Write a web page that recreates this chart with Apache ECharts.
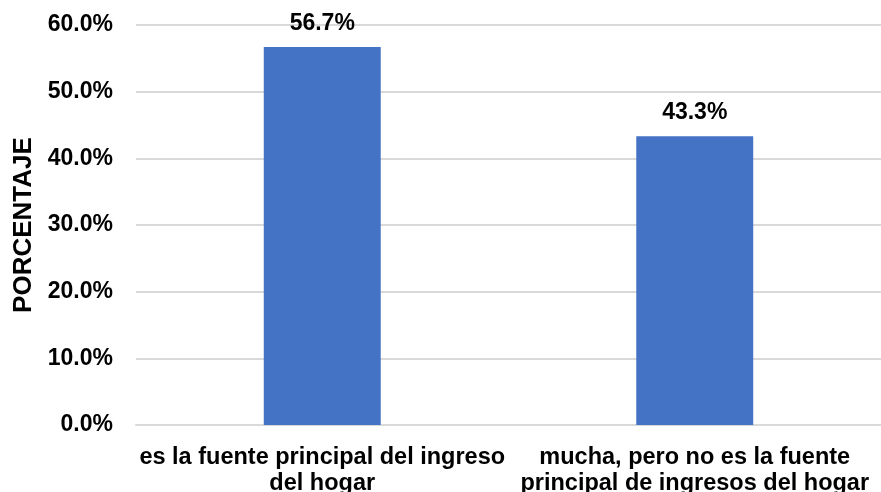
<!DOCTYPE html>
<html>
<head>
<meta charset="utf-8">
<script src="https://cdn.jsdelivr.net/npm/echarts@6/dist/echarts.min.js"></script>
<style>
html,body{margin:0;padding:0;background:#fff;}
#chart{width:881px;height:492px;}
</style>
</head>
<body>
<div id="chart"></div>
<script>
const categories = ["es la fuente principal del ingreso\ndel hogar", "mucha, pero no es la fuente\nprincipal de ingresos del hogar"];
const values = [56.7, 43.3];
const yTicks = [0, 10, 20, 30, 40, 50, 60];

const FONT = '"Liberation Sans", Arial, Helvetica, sans-serif';
const chart = echarts.init(document.getElementById('chart'));
chart.setOption({
  animation: false,
  grid: {left: 136, right: 0, top: 25, bottom: 67, containLabel: false, outerBoundsMode: 'none'},
  xAxis: {
    type: 'category',
    data: categories,
    axisLine: {show: true, lineStyle: {color: '#d9d9d9', width: 2}},
    axisTick: {show: false},
    axisLabel: {
      interval: 0, color: '#000', fontWeight: 'bold', fontSize: 23.5,
      fontFamily: FONT, lineHeight: 26, margin: 20, hideOverlap: false
    }
  },
  yAxis: {
    type: 'value',
    min: yTicks[0], max: yTicks[yTicks.length - 1], interval: 10,
    name: 'PORCENTAJE',
    nameLocation: 'middle',
    nameGap: 99,
    nameRotate: 90,
    nameTextStyle: {color: '#000', fontWeight: 'bold', fontSize: 26, fontFamily: FONT},
    axisLine: {show: false},
    axisTick: {show: false},
    splitLine: {lineStyle: {color: '#d9d9d9', width: 2}},
    axisLabel: {
      color: '#000', fontWeight: 'bold', fontSize: 23, margin: 23,
      fontFamily: FONT,
      formatter: v => v.toFixed(1) + '%'
    }
  },
  series: [{
    type: 'bar',
    data: values,
    barWidth: '31.4%',
    itemStyle: {color: '#4472c4'},
    label: {
      show: true, position: 'top', distance: 12,
      color: '#000', fontWeight: 'bold', fontSize: 23,
      fontFamily: FONT,
      formatter: p => p.value.toFixed(1) + '%'
    }
  }]
});
</script>
</body>
</html>
